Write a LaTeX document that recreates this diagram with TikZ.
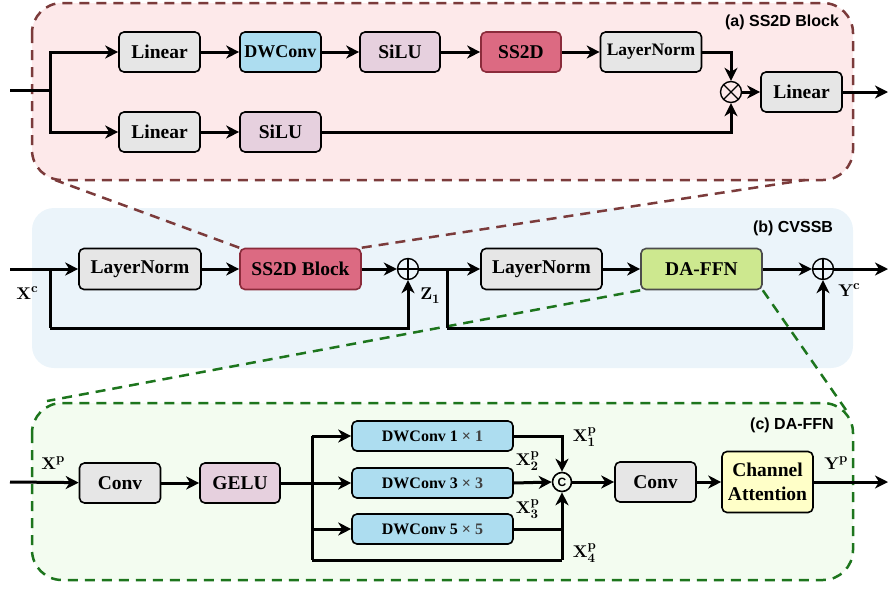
\documentclass[tikz,border=0pt]{standalone}
\usepackage[no-math]{fontspec}
\setmainfont{Liberation Serif}
\newfontfamily\labsans{Liberation Sans}
\newfontfamily\lmbx{lmroman10-bold.otf}
\usetikzlibrary{arrows.meta,calc}
\definecolor{pnkfill}{HTML}{FDE9EA}
\definecolor{brn}{HTML}{7B3B3B}
\definecolor{bluefill}{HTML}{EBF4FA}
\definecolor{grnfill}{HTML}{F3FCF0}
\definecolor{grn}{HTML}{1D751D}
\definecolor{grayb}{HTML}{E6E6E6}
\definecolor{blueb}{HTML}{ADDDF0}
\definecolor{purpb}{HTML}{E6D0DE}
\definecolor{redb}{HTML}{DC6A82}
\definecolor{redbd}{HTML}{8B2B3B}
\definecolor{limeb}{HTML}{CDE88F}
\definecolor{yelb}{HTML}{FFFFC8}
\newcommand{\scr}[1]{{\fontsize{13}{13}\selectfont #1}}
\newcommand{\lbsup}[2]{#1\raisebox{7.5pt}{\scr{#2}}}
\newcommand{\lbsub}[2]{#1\raisebox{-4pt}{\scr{#2}}}
\newcommand{\lbss}[3]{#1\rlap{\raisebox{8pt}{\scr{#2}}}\raisebox{-4.5pt}{\scr{#3}}}
\tikzset{
  blk/.style={draw=black, rounded corners=5pt, line width=1.6pt, inner sep=0pt,
    font=\fontsize{19.5}{24}\selectfont\bfseries, align=center},
  arr/.style={line width=3pt, -{Stealth[length=13pt,width=13pt,inset=4pt]}},
  ln/.style={line width=3pt},
  opl/.style={circle, draw, line width=1.4pt, minimum size=21pt, inner sep=0pt,
    path picture={\draw[line width=1.3pt] (path picture bounding box.north) -- (path picture bounding box.south) (path picture bounding box.west) -- (path picture bounding box.east);}},
  otm/.style={circle, draw, line width=1.4pt, minimum size=21pt, inner sep=0pt,
    path picture={\draw[line width=1.3pt] ($(path picture bounding box.center)+(45:12pt)$) -- ($(path picture bounding box.center)+(225:12pt)$) ($(path picture bounding box.center)+(135:12pt)$) -- ($(path picture bounding box.center)+(315:12pt)$);}},
  catn/.style={circle, draw, line width=1.6pt, minimum size=19pt, inner sep=0pt, font=\labsans\fontsize{12}{12}\selectfont\bfseries},
  panlab/.style={font=\labsans\fontsize{16}{18}\selectfont\bfseries},
  mlab/.style={font=\lmbx\fontsize{17}{19}\selectfont, inner sep=0pt},
  zoomln/.style={line width=2.5pt, dash pattern=on 10pt off 7pt},
}
\begin{document}
\begin{tikzpicture}[x=1pt,y=-1pt]
\useasboundingbox (0,0) rectangle (888,589);
% panels
\draw[brn, fill=pnkfill, line width=2.5pt, dash pattern=on 10pt off 7pt, rounded corners=30pt] (32,3) rectangle (853,180);
\fill[bluefill, rounded corners=22pt] (32,208) rectangle (853,368);
\draw[grn, fill=grnfill, line width=2.5pt, dash pattern=on 10pt off 7pt, rounded corners=30pt] (32,403) rectangle (853,580);
\node[panlab] (laba) at (782,22) {(a) SS2D Block};
\node[panlab] (labb) at (793,228) {(b) CVSSB};
\node[panlab] (labc) at (792,425) {(c) DA-FFN};

% ===== middle row nodes (needed for zoom lines)
\node[blk, fill=grayb, minimum width=122pt, minimum height=41pt] (LNb1) at (140,269) {LayerNorm};
\node[blk, fill=redb, draw=redbd, minimum width=121pt, minimum height=41pt] (SSB) at (300.5,269) {SS2D Block};
\node[opl] (op1) at (408,269) {};
\node[blk, fill=grayb, minimum width=121pt, minimum height=41pt] (LNb2) at (541.5,269) {LayerNorm};
\node[blk, fill=limeb, draw=black!70, minimum width=121pt, minimum height=41pt] (DAF) at (701.5,269) {DA-FFN};
\node[opl] (op2) at (823,269) {};

% zoom connectors
\coordinate (za1) at (55,180);
\coordinate (za2) at (805,180);
\coordinate (zc1) at (47,401);
\coordinate (zc2) at (846,410);
\draw[zoomln, brn] (SSB.north west) -- (za1);
\draw[zoomln, brn] (SSB.north east) -- (za2);
\draw[zoomln, grn] (DAF.south west) -- (zc1);
\draw[zoomln, grn] (DAF.south east) -- (zc2);

% ===== (a) SS2D Block
\node[blk, fill=grayb, minimum width=81pt, minimum height=40pt] (L1) at (159.5,52) {Linear};
\node[blk, fill=blueb, minimum width=81pt, minimum height=40pt, font=\fontsize{18}{20}\selectfont\bfseries] (DW) at (280.5,52) {DWConv};
\node[blk, fill=purpb, minimum width=80pt, minimum height=40pt] (S1) at (400,52) {SiLU};
\node[blk, fill=redb, draw=redbd, minimum width=80pt, minimum height=40pt] (SS) at (521,52) {SS2D};
\node[blk, fill=grayb, minimum width=101pt, minimum height=40pt, font=\fontsize{17.5}{20}\selectfont\bfseries] (LN) at (651,52) {LayerNorm};
\node[otm] (ot) at (731,92) {};
\node[blk, fill=grayb, minimum width=81pt, minimum height=40pt] (Lo) at (801.5,92) {Linear};
\node[blk, fill=grayb, minimum width=81pt, minimum height=40pt] (L2) at (159.5,132) {Linear};
\node[blk, fill=purpb, minimum width=81pt, minimum height=40pt] (S2) at (280.5,132) {SiLU};
\coordinate (ina) at (10,90);
\coordinate (ba) at (50,90);
\coordinate (outa) at (888,92);
\draw[ln] (ina) -- (ba);
\draw[arr] (ba) |- (L1.west);
\draw[arr] (ba) |- (L2.west);
\draw[arr] (L1) -- (DW);
\draw[arr] (DW) -- (S1);
\draw[arr] (S1) -- (SS);
\draw[arr] (SS) -- (LN);
\draw[arr] (LN.east) -| (ot.north);
\draw[arr] (L2) -- (S2);
\draw[arr] (S2.east) -| (ot.south);
\draw[arr] (ot) -- (Lo);
\draw[arr] (Lo) -- (outa);

% ===== (b) CVSSB
\coordinate (inb) at (10,269);
\coordinate (bb1) at (50,269);
\coordinate (bb1d) at (50,328);
\coordinate (bb2) at (447,269);
\coordinate (bb2d) at (447,328);
\coordinate (outb) at (888,269);
\draw[ln] (inb) -- (bb1);
\draw[arr] (bb1) -- (LNb1);
\draw[arr] (LNb1) -- (SSB);
\draw[arr] (SSB) -- (op1);
\draw[ln] (bb1) -- (bb1d);
\draw[arr] (bb1d) -| (op1.south);
\draw[arr] (op1) -- (LNb2);
\draw[ln] (bb2) -- (bb2d);
\draw[arr] (bb2d) -| (op2.south);
\draw[arr] (LNb2) -- (DAF);
\draw[arr] (DAF) -- (op2);
\draw[arr] (op2) -- (outb);
\node[mlab] (xc) at (27,293) {\lbsup{X}{c}};
\node[mlab] (z1) at (430,296) {\lbsub{Z}{1}};
\node[mlab] (yc) at (849,290) {\lbsup{Y}{c}};

% ===== (c) DA-FFN
\node[blk, fill=grayb, minimum width=81pt, minimum height=40pt] (C1) at (120,483) {Conv};
\node[blk, fill=purpb, minimum width=80pt, minimum height=40pt] (GE) at (240,483) {GELU};
\node[blk, fill=blueb, minimum width=161pt, minimum height=30pt, font=\fontsize{16}{18}\selectfont\bfseries] (D1) at (432.5,436) {DWConv 1 {\color{black!75}× 1}};
\node[blk, fill=blueb, minimum width=161pt, minimum height=30pt, font=\fontsize{16}{18}\selectfont\bfseries] (D3) at (432.5,483) {DWConv 3 {\color{black!75}× 3}};
\node[blk, fill=blueb, minimum width=161pt, minimum height=30pt, font=\fontsize{16}{18}\selectfont\bfseries] (D5) at (432.5,529) {DWConv 5 {\color{black!75}× 5}};
\node[catn] (cat) at (562,482) {C};
\node[blk, fill=grayb, minimum width=81pt, minimum height=40pt] (C2) at (655.5,482) {Conv};
\node[blk, fill=yelb, minimum width=91pt, minimum height=61pt] (CA) at (767.5,482) {Channel\\Attention};
\coordinate (inc) at (10,482);
\coordinate (bc) at (312,483);
\coordinate (bct) at (312,436);
\coordinate (bcb) at (312,560);
\coordinate (bcm) at (312,529);
\coordinate (bce) at (562,560);
\coordinate (d5j) at (562,529);
\coordinate (outc) at (888,482);
\draw[arr] (inc) -- (C1);
\draw[arr] (C1) -- (GE);
\draw[ln] (GE.east) -- (bc);
\draw[ln] (bct) -- (bcb);
\draw[arr] (bct) -- (D1.west);
\draw[arr] (bc) -- (D3.west);
\draw[arr] (bcm) -- (D5.west);
\draw[arr] (D1.east) -| (cat.north);
\draw[arr] (D3.east) -- (cat.west);
\draw[ln] (D5.east) -- (d5j);
\draw[ln] (bcb) -- (bce);
\draw[arr] (bce) -- (cat.south);
\draw[arr] (cat) -- (C2);
\draw[arr] (C2) -- (CA);
\draw[arr] (CA) -- (outc);
\node[mlab] (xp) at (53,463) {\lbsup{X}{p}};
\node[mlab] (x1p) at (584,437) {\lbss{X}{p}{1}};
\node[mlab] (x2p) at (527,461) {\lbss{X}{p}{2}};
\node[mlab] (x3p) at (527,509) {\lbss{X}{p}{3}};
\node[mlab] (x4p) at (584,553) {\lbss{X}{p}{4}};
\node[mlab] (yp) at (836,463) {\lbsup{Y}{p}};
\end{tikzpicture}
\end{document}
